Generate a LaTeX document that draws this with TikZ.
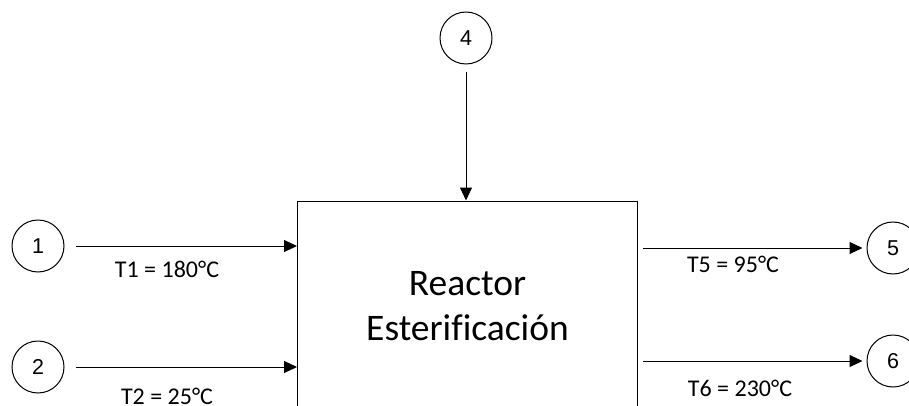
\documentclass[tikz,border=0pt]{standalone}
\usepackage{fontspec}
\setmainfont{Carlito}[Ligatures=NoCommon]
\newfontfamily\streamfont{Liberation Sans}
\usetikzlibrary{arrows.meta}

\begin{document}
\begin{tikzpicture}[x=1pt,y=-1pt,line width=1pt,
    >={Triangle[length=13pt,width=12pt]},
    stream/.style={draw,circle,minimum size=52pt,inner sep=0pt,
        font=\streamfont\fontsize{21.5}{26}\selectfont},
    unit/.style={draw,minimum width=340pt,minimum height=210pt,align=center,
        font=\fontsize{37.5}{45}\selectfont},
    temp/.style={anchor=base,font=\fontsize{24}{28}\selectfont}]
    \clip (0,0) rectangle (909,406);

    % Reactor: its lower edge runs off the page.
    \node[unit] (reactor) at (467.5,306) {Reactor\\Esterificación};

    % Feed and product streams
    \node[stream] (c1) at (38,246) {1};
    \node[stream] (c2) at (38,367) {2};
    \node[stream] (c4) at (466,38) {4};
    \node[stream] (c5) at (893,248) {5};
    \node[stream] (c6) at (893,361) {6};

    \draw[->,shorten <=11pt] (c1) -- (c1 -| reactor.west);
    \draw[->,shorten <=11pt] (c2) -- (c2 -| reactor.west);
    \draw[->,shorten <=8pt] (c4) -- (c4 |- reactor.north);
    \draw[->,shorten <=5pt,shorten >=4pt] (reactor.east |- c5) -- (c5);
    \draw[->,shorten <=5pt,shorten >=4pt] (reactor.east |- c6) -- (c6);

    \node[temp] (t1) at (167,277) {T1 = 180°C};
    \node[temp] (t2) at (167,404) {T2 = 25°C};
    \node[temp] (t5) at (733,272) {T5 = 95°C};
    \node[temp] (t6) at (740,396) {T6 = 230°C};
\end{tikzpicture}
\end{document}
